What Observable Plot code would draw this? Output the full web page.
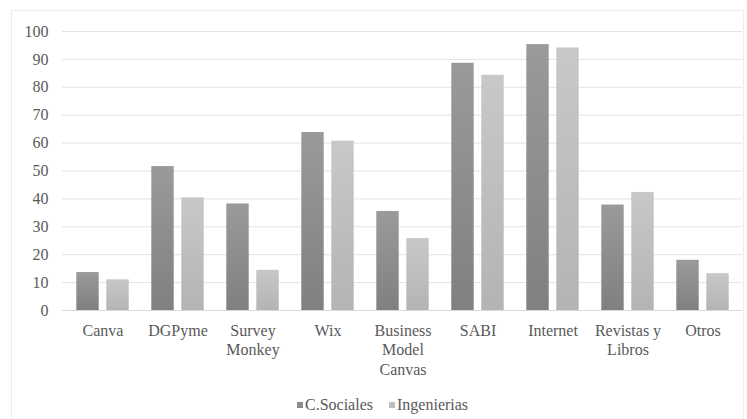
<!DOCTYPE html>
<html>
<head>
<meta charset="utf-8">
<script src="https://cdn.jsdelivr.net/npm/d3@7"></script>
<script src="https://cdn.jsdelivr.net/npm/@observablehq/plot@0.6"></script>
<style>
  html, body { margin: 0; padding: 0; background: #fff; }
  #wrap { position: relative; width: 747px; height: 419px; overflow: hidden; font-family: "Times New Roman", Times, "Liberation Serif", Tinos, "Noto Serif", "FreeSerif", "DejaVu Serif", serif; color: #595959; }
  #border { position: absolute; left: 11px; top: 10px; width: 733px; height: 412px; border: 1px solid #ececec; box-sizing: border-box; }
  #chart { position: absolute; left: 0; top: 0; }
  #legend { position: absolute; left: 297px; top: 396px; font-size: 16px; display: flex; align-items: center; white-space: nowrap; }
  .sw { display: inline-block; width: 6px; height: 6px; margin-right: 2px; }
  .item { display: flex; align-items: center; margin-right: 16px; }
  #chart svg, #chart svg text { font-family: "Times New Roman", Times, "Liberation Serif", Tinos, "Noto Serif", "FreeSerif", "DejaVu Serif", serif !important; }
</style>
</head>
<body>
<div id="wrap">
  <div id="border"></div>
  <div id="chart"></div>
  <div id="legend"></div>
</div>
<script>
const categories = ["Canva", "DGPyme", "Survey Monkey", "Wix", "Business Model Canvas", "SABI", "Internet", "Revistas y Libros", "Otros"];
const tickLabels = ["Canva", "DGPyme", "Survey\nMonkey", "Wix", "Business\nModel\nCanvas", "SABI", "Internet", "Revistas y\nLibros", "Otros"];
const series = ["C.Sociales", "Ingenierias"];
const cSociales = [13.6, 51.6, 38.2, 63.8, 35.5, 88.6, 95.3, 37.8, 18.0];
const ingenierias = [11.0, 40.4, 14.4, 60.7, 25.8, 84.3, 94.1, 42.3, 13.2];
const yTicks = [0, 10, 20, 30, 40, 50, 60, 70, 80, 90, 100];
const seriesColors = ["#8c8c8c", "#bfbfbf"];

const dataC = categories.map((c, i) => ({cat: c, value: cSociales[i]}));
const dataI = categories.map((c, i) => ({cat: c, value: ingenierias[i]}));

const plot = Plot.plot({
  width: 747,
  height: 419,
  marginLeft: 62,
  marginRight: 5,
  marginTop: 31,
  marginBottom: 109,
  style: {fontSize: "16px", color: "#595959", background: "transparent"},
  x: {domain: categories, padding: 0, label: null},
  y: {domain: [0, 100], label: null},
  marks: [
    Plot.ruleY(yTicks, {stroke: "#e3e3e3", strokeWidth: 1}),
    Plot.barY(dataC, {x: "cat", y: "value", fill: "url(#gDark)", insetLeft: 11.3, insetRight: 41.3}),
    Plot.barY(dataI, {x: "cat", y: "value", fill: "url(#gLight)", insetLeft: 41.3, insetRight: 11.3}),
    Plot.ruleY([0], {stroke: "#d9d9d9"}),
    Plot.axisY({ticks: yTicks, tickSize: 0, tickPadding: 14, label: null, fill: "#595959"}),
    Plot.axisX({tickSize: 0, tickPadding: 12, label: null, lineHeight: 1.2, fill: "#595959",
      tickFormat: d => tickLabels[categories.indexOf(d)]})
  ]
});

const svg = d3.select(plot);
const defs = svg.insert("defs", ":first-child");
const g1 = defs.append("linearGradient").attr("id", "gDark").attr("x1", 0).attr("y1", 0).attr("x2", 0).attr("y2", 1);
g1.append("stop").attr("offset", "0%").attr("stop-color", "#9a9a9a");
g1.append("stop").attr("offset", "100%").attr("stop-color", "#808080");
const g2 = defs.append("linearGradient").attr("id", "gLight").attr("x1", 0).attr("y1", 0).attr("x2", 0).attr("y2", 1);
g2.append("stop").attr("offset", "0%").attr("stop-color", "#c8c8c8");
g2.append("stop").attr("offset", "100%").attr("stop-color", "#b4b4b4");

document.getElementById("chart").appendChild(plot);

const legend = document.getElementById("legend");
series.forEach((s, i) => {
  const item = document.createElement("span");
  item.className = "item";
  const sw = document.createElement("span");
  sw.className = "sw";
  sw.style.background = seriesColors[i];
  item.appendChild(sw);
  item.appendChild(document.createTextNode(s));
  legend.appendChild(item);
});
</script>
</body>
</html>
